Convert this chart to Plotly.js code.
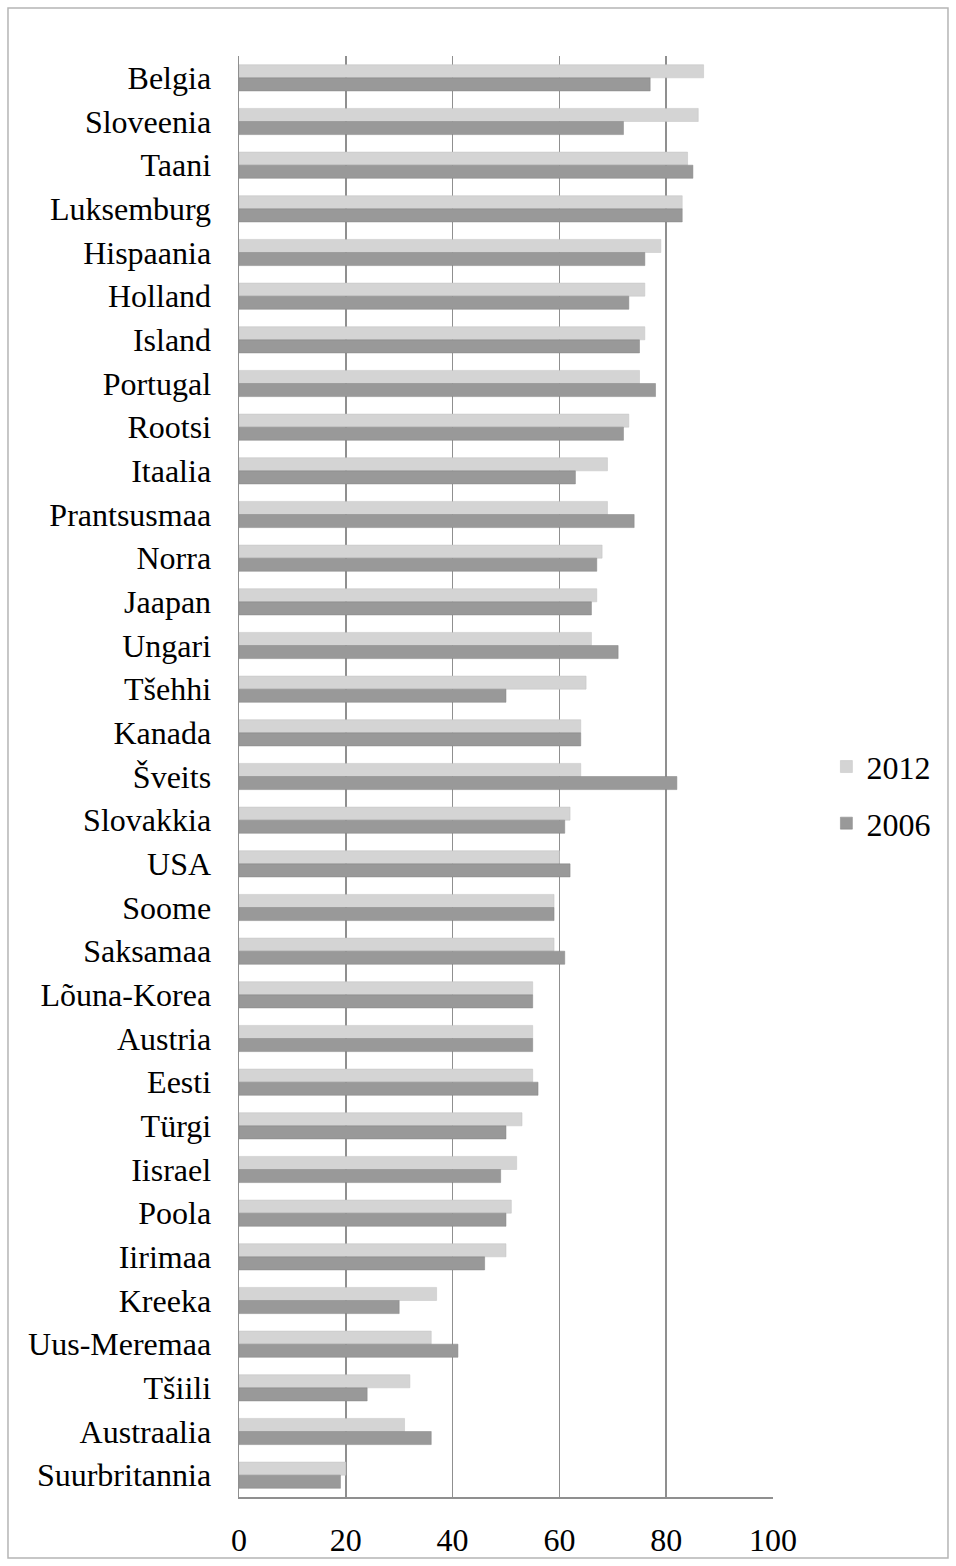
<!DOCTYPE html>
<html>
<head>
<meta charset="utf-8">
<script src="https://cdn.plot.ly/plotly-3.0.1.min.js"></script>
<style>
html,body{margin:0;padding:0;background:#fff;}
#chart{width:956px;height:1566px;}
</style>
</head>
<body>
<div id="chart"></div>
<script>
const categories = ["Belgia","Sloveenia","Taani","Luksemburg","Hispaania","Holland","Island","Portugal","Rootsi","Itaalia","Prantsusmaa","Norra","Jaapan","Ungari","Tšehhi","Kanada","Šveits","Slovakkia","USA","Soome","Saksamaa","Lõuna-Korea","Austria","Eesti","Türgi","Iisrael","Poola","Iirimaa","Kreeka","Uus-Meremaa","Tšiili","Austraalia","Suurbritannia"];
const values2012 = [87,86,84,83,79,76,76,75,73,69,69,68,67,66,65,64,64,62,60,59,59,55,55,55,53,52,51,50,37,36,32,31,20];
const values2006 = [77,72,85,83,76,73,75,78,72,63,74,67,66,71,50,64,82,61,62,59,61,55,55,56,50,49,50,46,30,41,24,36,19];
const seriesNames = ["2012","2006"];
const xTicks = [0,20,40,60,80,100];

const traces = [
  {type:"bar", orientation:"h", name:seriesNames[0], y:categories, x:values2012,
   marker:{color:"#d4d4d4", line:{color:"#c2c2c2", width:0.5}}, legendgroup:"a"},
  {type:"bar", orientation:"h", name:seriesNames[1], y:categories, x:values2006,
   marker:{color:"#999999", line:{color:"#858585", width:0.5}}, legendgroup:"b"}
];

const layout = {
  width:956, height:1566,
  margin:{l:239, r:183, t:56, b:69},
  paper_bgcolor:"#fff", plot_bgcolor:"#fff",
  barmode:"group", bargap:0.4, bargroupgap:0,
  font:{family:"Liberation Serif, Times New Roman, serif", size:32, color:"#000"},
  xaxis:{range:[0,100], tickvals:xTicks, ticktext:xTicks.map(String), showgrid:true,
         gridcolor:"#8f8f8f", gridwidth:1.5, zeroline:false, showline:true,
         linecolor:"#8f8f8f", linewidth:1.5, ticks:"", ticklabelstandoff:14,
         tickfont:{size:32}, fixedrange:true},
  yaxis:{autorange:"reversed", showline:true, linecolor:"#8f8f8f", linewidth:1.5,
         ticks:"", ticklabelstandoff:20, tickfont:{size:32}, showgrid:false, fixedrange:true},
  legend:{x:1.1, y:0.487, xanchor:"left", yanchor:"middle", traceorder:"grouped",
          tracegroupgap:12, font:{size:32}, itemwidth:30, bgcolor:"rgba(0,0,0,0)"},
  showlegend:true,
  shapes:[{type:"rect", xref:"paper", yref:"paper", x0:-0.4326, x1:1.3277, y0:-0.0423, y1:1.0333,
           line:{color:"#b5b5b5", width:1.5}, fillcolor:"rgba(0,0,0,0)", layer:"below"}]
};

Plotly.newPlot("chart", traces, layout, {displayModeBar:false, staticPlot:true});
</script>
</body>
</html>
